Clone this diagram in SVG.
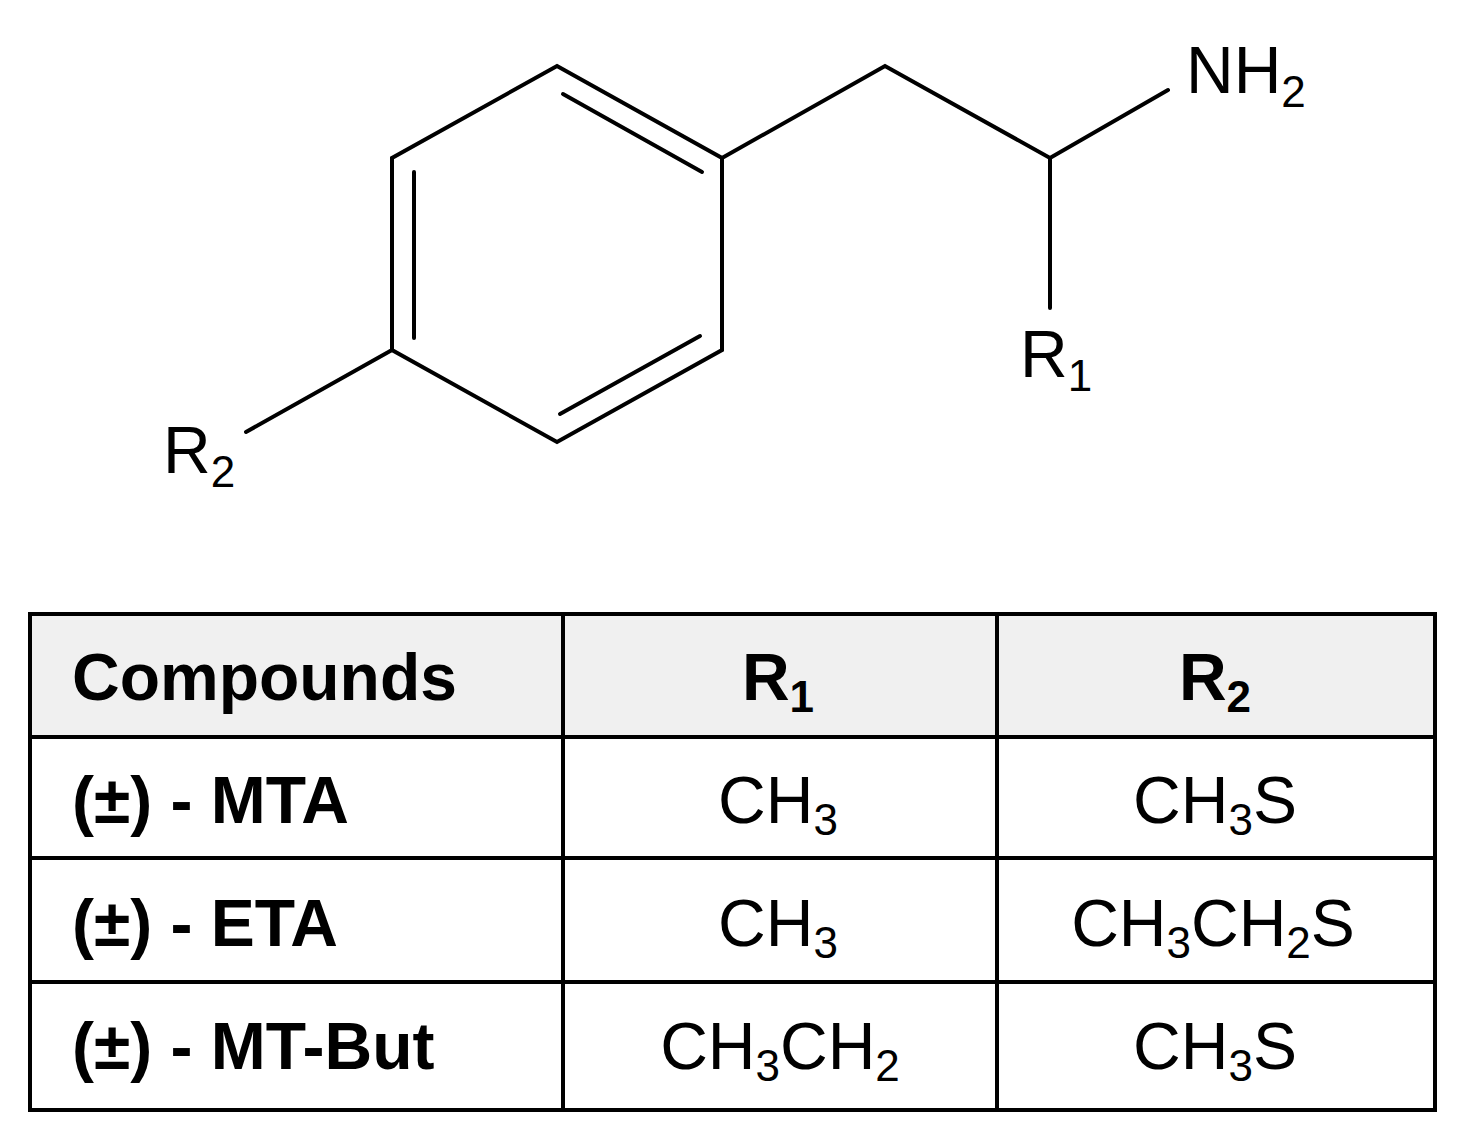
<svg xmlns="http://www.w3.org/2000/svg" width="1472" height="1144" viewBox="0 0 1472 1144">
<style>
.b{stroke:#000;stroke-width:4;fill:none;stroke-linecap:round}
.t{font-family:"Liberation Sans",Arial,sans-serif;font-size:66px;fill:#000}
.h{font-weight:bold}
.c{text-anchor:middle}
.s{font-size:44px}
.g{stroke:#000;stroke-width:4}
</style>
<rect width="1472" height="1144" fill="#fff"/>
<g id="molecule">
<polygon class="b" points="557,66 722,158 722,350 557,442 392,350 392,158"/>
<line class="b" x1="563" y1="94" x2="702" y2="172"/>
<line class="b" x1="414" y1="172" x2="414" y2="338"/>
<line class="b" x1="560" y1="414" x2="700" y2="336"/>
<polyline class="b" points="722,158 885,66 1050,158 1168,90"/>
<line class="b" x1="1050" y1="158" x2="1050" y2="308"/>
<line class="b" x1="392" y1="350" x2="246" y2="432"/>
<text class="t" x="1186" y="93">NH<tspan class="s" dy="14">2</tspan></text>
<text class="t" x="1020" y="377">R<tspan class="s" dy="14">1</tspan></text>
<text class="t" x="163" y="473">R<tspan class="s" dy="14">2</tspan></text>
</g>
<g id="table">
<rect x="30" y="614" width="1405" height="123" fill="#f0f0f0"/>
<rect x="30" y="614" width="1405" height="496" fill="none" class="g"/>
<line class="g" x1="30" y1="737" x2="1435" y2="737"/>
<line class="g" x1="30" y1="858" x2="1435" y2="858"/>
<line class="g" x1="30" y1="982" x2="1435" y2="982"/>
<line class="g" x1="563" y1="614" x2="563" y2="1110"/>
<line class="g" x1="997" y1="614" x2="997" y2="1110"/>
<text class="t h" x="72" y="700">Compounds</text>
<text class="t h c" x="778" y="700">R<tspan class="s" dy="12">1</tspan></text>
<text class="t h c" x="1215" y="700">R<tspan class="s" dy="12">2</tspan></text>
<text class="t h" x="72" y="823">(±) - MTA</text>
<text class="t h" x="72" y="946">(±) - ETA</text>
<text class="t h" x="72" y="1069">(±) - MT-But</text>
<text class="t c" x="778" y="823">CH<tspan class="s" dy="12">3</tspan></text>
<text class="t c" x="1215" y="823">CH<tspan class="s" dy="12">3</tspan><tspan dy="-12">S</tspan></text>
<text class="t c" x="778" y="946">CH<tspan class="s" dy="12">3</tspan></text>
<text class="t c" x="1213" y="946">CH<tspan class="s" dy="12">3</tspan><tspan dy="-12">CH</tspan><tspan class="s" dy="12">2</tspan><tspan dy="-12">S</tspan></text>
<text class="t c" x="780" y="1069">CH<tspan class="s" dy="12">3</tspan><tspan dy="-12">CH</tspan><tspan class="s" dy="12">2</tspan></text>
<text class="t c" x="1215" y="1069">CH<tspan class="s" dy="12">3</tspan><tspan dy="-12">S</tspan></text>
</g>
</svg>
